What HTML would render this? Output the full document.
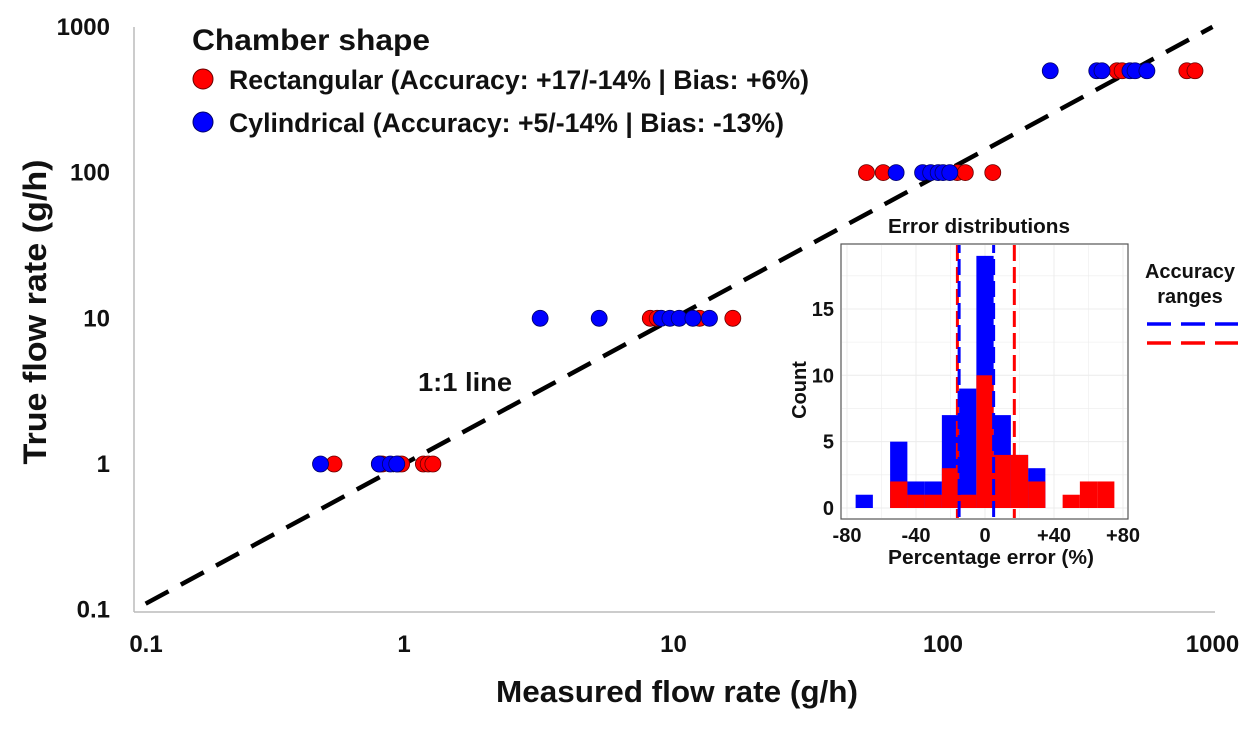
<!DOCTYPE html>
<html><head><meta charset="utf-8"><style>
body{margin:0;background:#fff;}
svg text{font-family:"Liberation Sans",Arial,sans-serif;font-weight:bold;fill:#111;}
</style></head><body>
<svg id="chart" width="1260" height="724" viewBox="0 0 1260 724" xmlns="http://www.w3.org/2000/svg">
<g id="main"></g>
<g id="inset"></g>
</svg>
<script>
// Main scatter data
const trueLevels = [1, 10, 100, 500];
const rectMeasured = [
  [0.55, 0.81, 0.83, 0.95, 0.98, 1.18, 1.23, 1.28],
  [8.2, 8.7, 12.5, 16.6],
  [52, 60, 113, 121, 153],
  [442, 462, 803, 861]
];
const cylMeasured = [
  [0.49, 0.81, 0.89, 0.94],
  [3.2, 5.3, 9.0, 9.7, 10.5, 11.8, 13.6],
  [67, 84, 90, 96, 100, 106],
  [250, 372, 389, 494, 516, 571]
];
const xTicks = [0.1, 1, 10, 100, 1000];
const yTicks = [0.1, 1, 10, 100, 1000];
// Inset histogram data (bins of width 10)
const binStarts = [-75, -55, -45, -35, -25, -15, -5, 5, 15, 25, 35, 45, 55, 65];
const cylCounts = [1, 5, 2, 2, 7, 9, 19, 7, 4, 3, 0, 0, 0, 0];
const rectCounts = [0, 2, 1, 1, 3, 1, 10, 4, 4, 2, 0, 1, 2, 2];
const cylRange = [-15, 5];
const rectRange = [-16, 17];
const histXTicks = [-80, -40, 0, 40, 80];
const histXLabels = ["-80", "-40", "0", "+40", "+80"];
const histYTicks = [0, 5, 10, 15];

const NS = "http://www.w3.org/2000/svg";
function mk(tag, attrs, parent) {
  const e = document.createElementNS(NS, tag);
  for (const k in attrs) e.setAttribute(k, attrs[k]);
  parent.appendChild(e);
  return e;
}
const main = document.getElementById('main');
const inset = document.getElementById('inset');
const X = v => 404 + 269.5 * Math.log10(v);
const Y = v => 464 - 145.7 * Math.log10(v);

let a = mk('line', {x1:134, y1:27, x2:134, y2:612, stroke:'#bbb', 'stroke-width':1.5}, main);


a = mk('line', {x1:134, y1:612, x2:1215, y2:612, stroke:'#bbb', 'stroke-width':1.5}, main);



xTicks.forEach(t => {
  const e = mk('text', {x:Math.max(X(t), 146), y:652, 'font-size':24, 'text-anchor':'middle'}, main);
  e.textContent = String(t);
  
  
});
yTicks.forEach(t => {
  const e = mk('text', {x:110, y:Y(t) + 8, 'font-size':24, 'text-anchor':'end'}, main);
  e.textContent = String(t);
  
  
});
let t = mk('text', {x:677, y:702, 'font-size':31, 'text-anchor':'middle', textLength:362, lengthAdjust:'spacingAndGlyphs'}, main);
t.textContent = 'Measured flow rate (g/h)';


t = mk('text', {x:0, y:0, 'font-size':32, 'text-anchor':'middle', textLength:305, lengthAdjust:'spacingAndGlyphs', transform:'translate(46,312) rotate(-90)'}, main);
t.textContent = 'True flow rate (g/h)';



let l = mk('line', {x1:X(0.11), y1:Y(0.11), x2:X(1000), y2:Y(1000), stroke:'#000', 'stroke-width':4.5, 'stroke-dasharray':'26,14'}, main);


t = mk('text', {x:418, y:391, 'font-size':26, textLength:94, lengthAdjust:'spacingAndGlyphs'}, main);
t.textContent = '1:1 line';



trueLevels.forEach((lv, i) => {
  rectMeasured[i].forEach(v => {
    const c = mk('circle', {cx:X(v), cy:Y(lv), r:8, fill:'#f00', stroke:'#600', 'stroke-width':0.8}, main);
    
    
  });
  cylMeasured[i].forEach(v => {
    const c = mk('circle', {cx:X(v), cy:Y(lv), r:8, fill:'#00f', stroke:'#006', 'stroke-width':0.8}, main);
    
    
  });
});

t = mk('text', {x:192, y:50, 'font-size':30, textLength:238, lengthAdjust:'spacingAndGlyphs'}, main);
t.textContent = 'Chamber shape';


const leg = [['#f00','#600','Rectangular (Accuracy: +17/-14% | Bias: +6%)',79,580],['#00f','#006','Cylindrical (Accuracy: +5/-14% | Bias: -13%)',122,555]];
leg.forEach(d => {
  const c = mk('circle', {cx:203, cy:d[3], r:10, fill:d[0], stroke:d[1], 'stroke-width':1}, main);
  
  
  const e = mk('text', {x:229, y:d[3] + 10, 'font-size':27, textLength:d[4], lengthAdjust:'spacingAndGlyphs'}, main);
  e.textContent = d[2];
  
  
});

const HX = v => 985 + 1.725 * v;
const HY = v => 508 - 13.27 * v;
let p = mk('rect', {x:841, y:244, width:287, height:275, fill:'#fff', stroke:'#555', 'stroke-width':1.2}, inset);


for (let v = -80; v <= 80; v += 20) {
  const g = mk('line', {x1:HX(v), y1:245, x2:HX(v), y2:518, stroke:'#ececec', 'stroke-width':v % 40 === 0 ? 1 : 0.6}, inset);
  
  
}
for (let v = 0; v <= 17.5; v += 2.5) {
  const g = mk('line', {x1:842, y1:HY(v), x2:1127, y2:HY(v), stroke:'#ececec', 'stroke-width':v % 5 === 0 ? 1 : 0.6}, inset);
  
  
}
binStarts.forEach((s, i) => {
  if (cylCounts[i] > 0) {
    const r = mk('rect', {x:HX(s), y:HY(cylCounts[i]), width:HX(s+10)-HX(s), height:HY(0)-HY(cylCounts[i]), fill:'#00f'}, inset);
    
    
  }
});
binStarts.forEach((s, i) => {
  if (rectCounts[i] > 0) {
    const r = mk('rect', {x:HX(s), y:HY(rectCounts[i]), width:HX(s+10)-HX(s), height:HY(0)-HY(rectCounts[i]), fill:'#f00'}, inset);
    
    
  }
});
rectRange.forEach(v => {
  const d = mk('line', {x1:HX(v), y1:245, x2:HX(v), y2:518, stroke:'#f00', 'stroke-width':3, 'stroke-dasharray':'16,6'}, inset);
  
  
});
cylRange.forEach(v => {
  const d = mk('line', {x1:HX(v), y1:245, x2:HX(v), y2:518, stroke:'#00f', 'stroke-width':3, 'stroke-dasharray':'16,6', 'stroke-dashoffset':8}, inset);
  
  
});
histXTicks.forEach((v, i) => {
  const e = mk('text', {x:HX(v), y:542, 'font-size':20, 'text-anchor':'middle'}, inset);
  e.textContent = histXLabels[i];
  
  
});
histYTicks.forEach(v => {
  const e = mk('text', {x:834, y:HY(v) + 7, 'font-size':20, 'text-anchor':'end'}, inset);
  e.textContent = String(v);
  
  
});
t = mk('text', {x:991, y:564, 'font-size':20, 'text-anchor':'middle', textLength:206, lengthAdjust:'spacingAndGlyphs'}, inset);
t.textContent = 'Percentage error (%)';


t = mk('text', {x:0, y:0, 'font-size':20, 'text-anchor':'middle', transform:'translate(806,390) rotate(-90)'}, inset);
t.textContent = 'Count';


t = mk('text', {x:979, y:233, 'font-size':20, 'text-anchor':'middle', textLength:182, lengthAdjust:'spacingAndGlyphs'}, inset);
t.textContent = 'Error distributions';


t = mk('text', {x:1190, y:278, 'font-size':20, 'text-anchor':'middle'}, inset);
t.textContent = 'Accuracy';


t = mk('text', {x:1190, y:303, 'font-size':20, 'text-anchor':'middle'}, inset);
t.textContent = 'ranges';


let k = mk('line', {x1:1147, y1:324, x2:1238, y2:324, stroke:'#00f', 'stroke-width':3.5, 'stroke-dasharray':'24,10'}, inset);


k = mk('line', {x1:1147, y1:343, x2:1238, y2:343, stroke:'#f00', 'stroke-width':3.5, 'stroke-dasharray':'24,10'}, inset);


</script>
</body></html>
